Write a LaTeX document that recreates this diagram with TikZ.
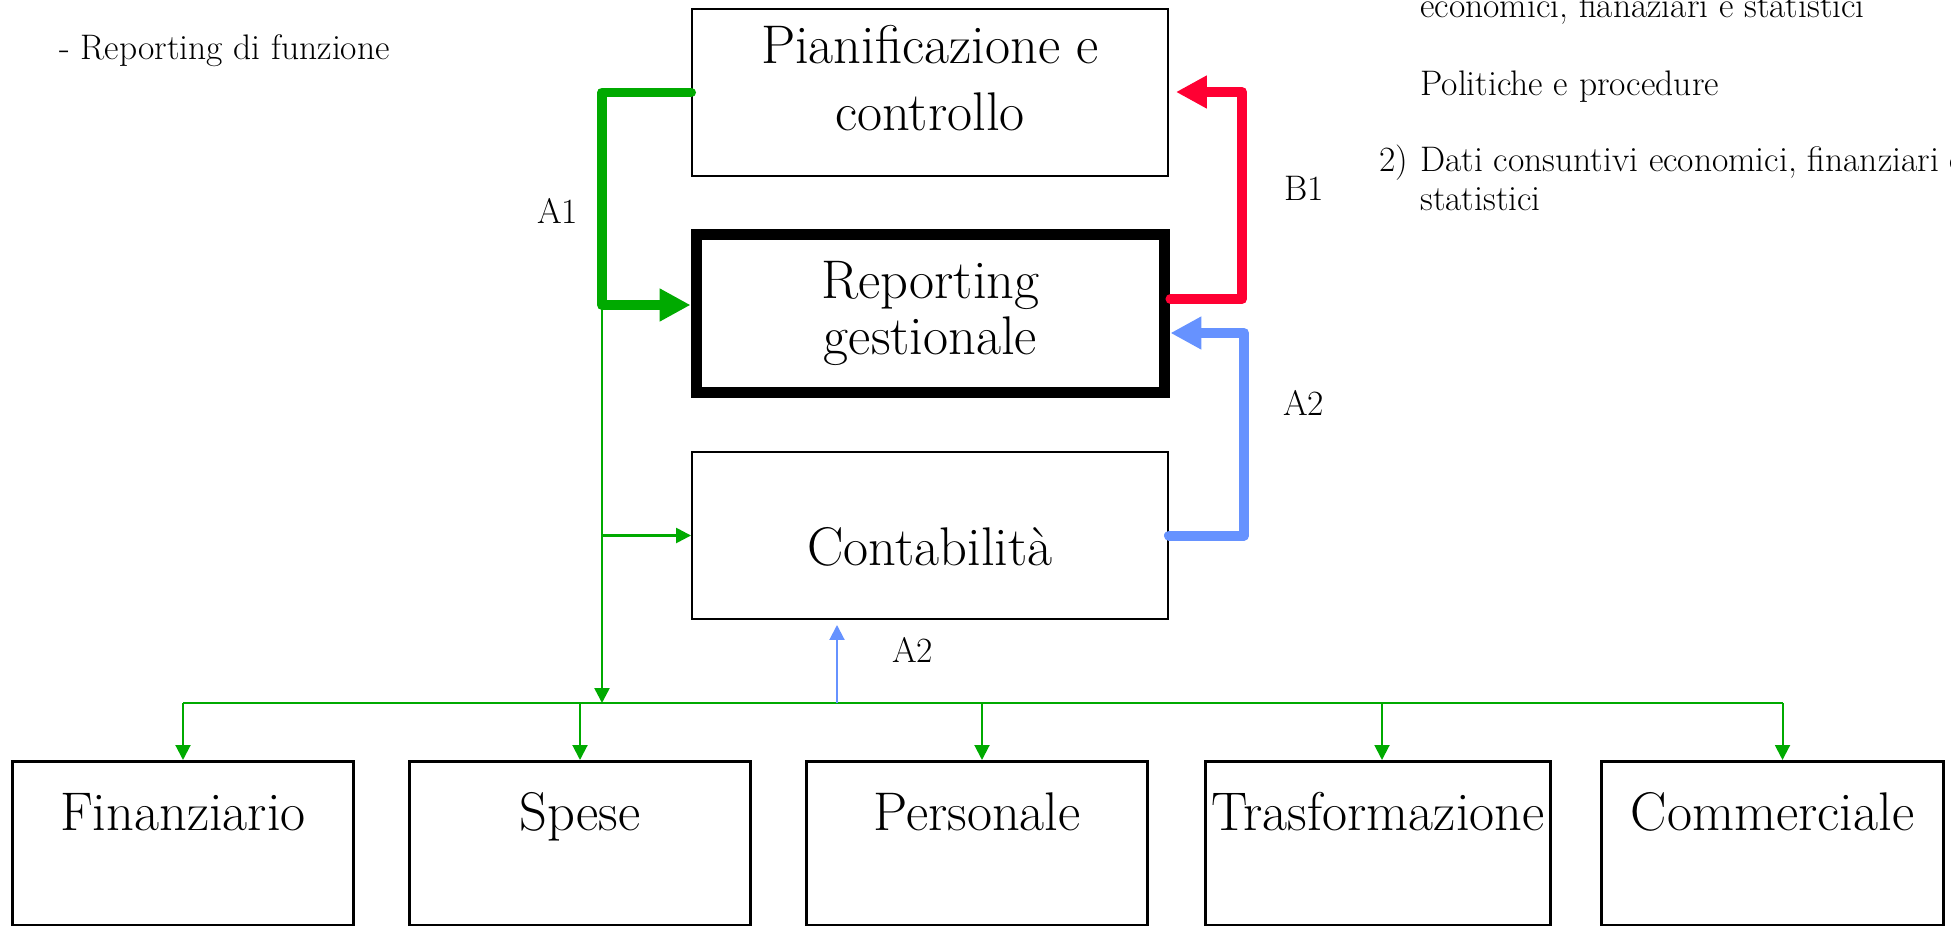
\documentclass[tikz,border=0pt]{standalone}
\usetikzlibrary{arrows.meta,calc}
\definecolor{FlowClr}{RGB}{0,170,0}
\definecolor{BackClr}{RGB}{255,0,51}
\definecolor{DataClr}{RGB}{102,146,255}

\tikzset{
  box/.style={draw,line width=0.04cm,minimum width=9.52cm,minimum height=3.34cm,align=center,font=\fontsize{31}{38}\selectfont},
  unitbox/.style={draw,line width=0.06cm,minimum width=6.84cm,inner ysep=0pt,text height=1.38cm,text depth=1.9cm,anchor=north,font=\fontsize{31}{34}\selectfont},
  note/.style={anchor=base west,inner sep=0pt,font=\fontsize{20.2}{24}\selectfont},
  bigflow/.style={line width=0.2cm,line cap=round,line join=round,-{Triangle[length=0.62cm,width=0.62cm]}},
  smallflow/.style={line width=0.05cm,-{Triangle[length=0.3cm,width=0.3cm]}}
}

\begin{document}
\begin{tikzpicture}[x=0.02cm,y=-0.02cm]
\useasboundingbox (0,0) rectangle (1951,926);
\clip (0,0) rectangle (1951,926);

% central boxes
\node[box,text depth=0.6cm] (plan) at (930,92.5) {Pianificazione e\\controllo};
\node[box,line width=0.22cm,minimum width=9.38cm,minimum height=3.17cm,font=\fontsize{31}{32}\selectfont] (rep) at (930.5,313.75) {Reporting\\gestionale};
\node[box,text height=1.2cm] (cont) at (930,535.5) {Contabilità};

% functions
\node[unitbox] (fin) at (183,760) {Finanziario};
\node[unitbox] (spe) at (580,760) {Spese};
\node[unitbox] (pers) at (977,760) {Personale};
\node[unitbox] (tras) at (1378,760) {Trasformazione};
\node[unitbox] (comm) at (1772.5,760) {Commerciale};

\coordinate (a1) at (602,305);
\coordinate (bus) at (602,703);
\coordinate (b0) at (1242,299);
\coordinate (b1) at (1242,92);
\coordinate (a2) at (1244,333);
\coordinate (up) at (837,703);

\draw[bigflow,FlowClr] (plan.west) -| (a1) -- (a1 -| rep.west);
\draw[bigflow,BackClr,shorten >=0.14cm] (b0 -| rep.east) -- (b0) -- (b1) -- (b1 -| plan.east);
\draw[bigflow,DataClr] (cont.east) -| (a2) -- (a2 -| rep.east);

\draw[smallflow,FlowClr] (a1) -- (bus);
\draw[smallflow,FlowClr] (a1 |- cont.west) -- (cont.west);
\draw[FlowClr,line width=0.04cm] (fin.north |- bus) -- ([xshift=0.2cm]comm.north |- bus);
\foreach \u/\d in {fin/0,spe/0,pers/5,tras/4,comm/10}
  \draw[smallflow,FlowClr,line width=0.04cm] ([xshift=\d*0.02cm]\u.north |- bus) -- ([xshift=\d*0.02cm]\u.north);
\draw[smallflow,DataClr,line width=0.04cm,shorten >=0.1cm] (up) -- (up |- cont.south);

% labels
\node[note] (a1l) at (537,223) {A1};
\node[note] (b1l) at (1284,200) {B1};
\node[note] (a2r) at (1283,415) {A2};
\node[note] (a2b) at (892,662) {A2};

\node[note] (title) at (59,60) {- Reporting di funzione};
\node[note] (t0) at (1420,18) {economici, fianaziari e statistici};
\node[note] (t1) at (1420,96) {Politiche e procedure};
\node[note] (t2n) at (1379,172) {2)};
\node[note] (t2) at (1420,172) {Dati consuntivi economici, finanziari e};
\node[note] (t3) at (1420,210) {statistici};
\end{tikzpicture}
\end{document}
